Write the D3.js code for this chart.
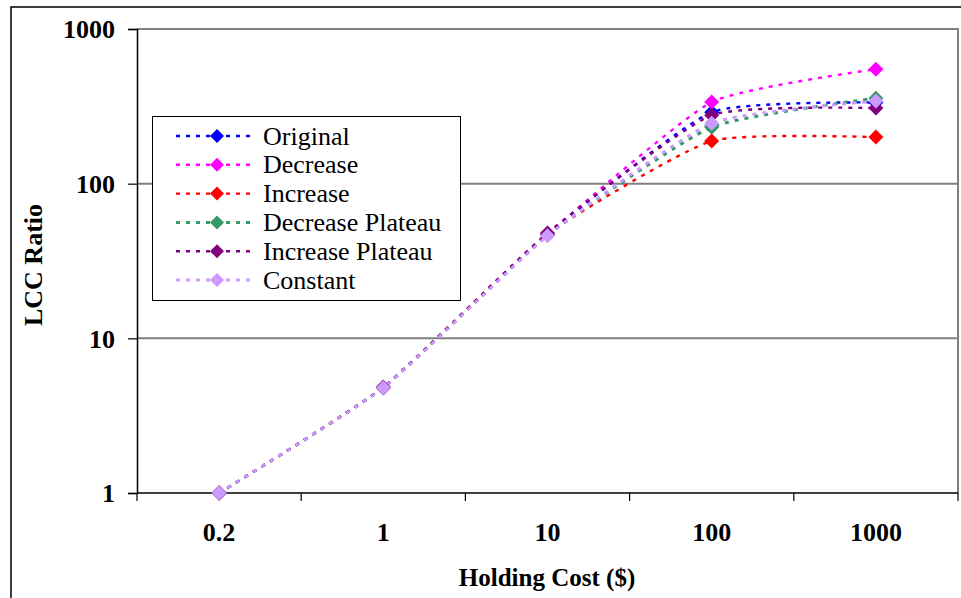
<!DOCTYPE html>
<html><head><meta charset="utf-8">
<script src="https://cdn.jsdelivr.net/npm/d3@7/dist/d3.min.js"></script>
<style>
html,body{margin:0;padding:0;background:#fff;}
svg{display:block;}
text{font-family:"Liberation Serif","Times New Roman",serif;}
</style></head>
<body>
<script>
const categories = ["0.2", "1", "10", "100", "1000"];
const seriesNames = ["Original", "Decrease", "Increase", "Decrease Plateau", "Increase Plateau", "Constant"];
const original        = [1, 4.8, 47, 290, 335];
const decrease        = [1, 4.8, 47, 337, 550];
const increase        = [1, 4.8, 47, 189, 200];
const decreasePlateau = [1, 4.8, 46.5, 232, 357];
const increasePlateau = [1, 4.85, 48, 277, 308];
const constant        = [1, 4.8, 46, 246, 342];
const yTicks = [1, 10, 100, 1000];
const xTitle = "Holding Cost ($)";
const yTitle = "LCC Ratio";

const seriesValues = [original, decrease, increase, decreasePlateau, increasePlateau, constant];
const colors = ["#0000FF", "#FF00FF", "#FF0000", "#339966", "#800080", "#CC99FF"];
const widths = [2.4, 2.4, 2.4, 3, 2.4, 3];
const dashes = ["4,6", "4,6", "4,6", "4,6", "4,6", "4,6"];

const W = 961, H = 598;
const svg = d3.select("body").append("svg").attr("width", W).attr("height", H);

// outer frame
svg.append("rect").attr("x", 11).attr("y", 7).attr("width", 960).attr("height", 600)
  .attr("fill", "#fff").attr("stroke", "#000").attr("stroke-width", 1.5);

const L = 137, R = 958, T = 29, B = 493;
const x = d3.scaleBand().domain(categories).range([L, R]).paddingInner(0).paddingOuter(0);
const y = d3.scaleLog().domain([1, 1000]).range([B, T]);

// plot border (grey top/right)
svg.append("path").attr("d", `M${L},${T}H${R}V${B}`).attr("fill", "none")
  .attr("stroke", "#808080").attr("stroke-width", 2);

// gridlines
svg.append("g").selectAll("line").data(yTicks.slice(1, 3)).join("line")
  .attr("x1", L).attr("x2", R).attr("y1", d => y(d)).attr("y2", d => y(d))
  .attr("stroke", "#808080").attr("stroke-width", 2);

// y axis
const yAxis = d3.axisLeft(y).tickValues(yTicks).tickFormat(d3.format("d")).tickSize(9).tickPadding(13);
const gy = svg.append("g").attr("transform", `translate(${L},0)`).call(yAxis);
gy.select(".domain").attr("stroke", "#000").attr("stroke-width", 1.5);
gy.selectAll(".tick line").attr("stroke", "#000").attr("stroke-width", 1.2);
gy.selectAll(".tick text").attr("font-family", "Liberation Serif, serif").attr("font-size", 26)
  .attr("font-weight", "bold").attr("fill", "#000").attr("dy", "0.34em");

// x axis
const gx = svg.append("g").attr("transform", `translate(0,${B})`);
gx.append("line").attr("x1", L).attr("x2", R).attr("y1", 0).attr("y2", 0)
  .attr("stroke", "#000").attr("stroke-width", 1.5);
const bounds = categories.map(c => x(c)).concat([x(categories[categories.length - 1]) + x.bandwidth()]);
gx.selectAll("line.tk").data(bounds).join("line").attr("class", "tk")
  .attr("x1", d => d).attr("x2", d => d).attr("y1", 0).attr("y2", 8)
  .attr("stroke", "#000").attr("stroke-width", 1.2);
gx.selectAll("text").data(categories).join("text")
  .attr("x", d => x(d) + x.bandwidth() / 2).attr("y", 48)
  .attr("text-anchor", "middle").attr("font-size", 26).attr("font-weight", "bold").text(d => d);

// titles
svg.append("text").attr("x", (L + R) / 2 - 0.5).attr("y", 586).attr("text-anchor", "middle")
  .attr("font-size", 25).attr("font-weight", "bold").text(xTitle);
svg.append("text").attr("transform", "translate(42,265) rotate(-90)").attr("text-anchor", "middle")
  .attr("font-size", 26).attr("font-weight", "bold").text(yTitle);

// series
const line = d3.line()
  .x((d, i) => x(categories[i]) + x.bandwidth() / 2)
  .y(d => y(d))
  .curve(d3.curveCardinal.tension(0.5));
const diamond = (cx, cy, r) => `M${cx},${cy - r}L${cx + r},${cy}L${cx},${cy + r}L${cx - r},${cy}Z`;

const gs = svg.append("g");
seriesValues.forEach((vals, s) => {
  gs.append("path").attr("d", line(vals)).attr("fill", "none")
    .attr("stroke", colors[s]).attr("stroke-width", widths[s]).attr("stroke-dasharray", dashes[s]);
});
seriesValues.forEach((vals, s) => {
  gs.selectAll(null).data(vals).join("path")
    .attr("d", (d, i) => diamond(x(categories[i]) + x.bandwidth() / 2, y(d), 7.5))
    .attr("fill", colors[s]);
});

// legend
const lg = svg.append("g");
lg.append("rect").attr("x", 152.5).attr("y", 116.5).attr("width", 308).attr("height", 184)
  .attr("fill", "#fff").attr("stroke", "#000").attr("stroke-width", 1);
seriesNames.forEach((name, s) => {
  const cy = 136 + s * 28.8;
  lg.append("line").attr("x1", 176).attr("x2", 254).attr("y1", cy).attr("y2", cy)
    .attr("stroke", colors[s]).attr("stroke-width", widths[s]).attr("stroke-dasharray", dashes[s]);
  lg.append("path").attr("d", diamond(217, cy, 7)).attr("fill", colors[s]);
  lg.append("text").attr("x", 263).attr("y", cy).attr("dy", "0.33em")
    .attr("font-size", 26).text(name);
});
</script>
</body></html>
